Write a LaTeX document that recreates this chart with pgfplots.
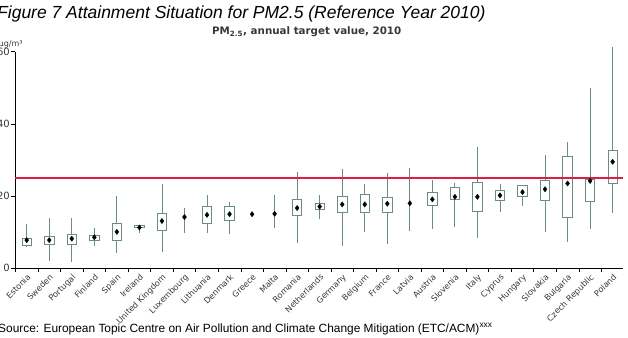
\documentclass[border=0pt]{standalone}
\usepackage{fontspec}
\setmainfont{Liberation Sans}
\newfontfamily\dejavu{DejaVu Sans}
\usepackage{pgfplots}
\pgfplotsset{compat=1.18}
\usepgfplotslibrary{statistics}
\definecolor{boxc}{RGB}{105,140,135}
\definecolor{tgt}{RGB}{222,28,72}
\definecolor{lbl}{RGB}{55,55,55}
\pgfplotsset{
  bx/.style={draw=boxc, fill=white, line width=0.8pt, solid,
    boxplot/draw direction=y,
    boxplot/draw/median/.code={}},
}
\begin{document}
\begin{tikzpicture}[x=1pt,y=1pt]
\begin{axis}[
  at={(15pt,68.7pt)}, anchor=south west,
  scale only axis, width=608pt, height=216.6pt,
  xmin=-0.52, xmax=26.46, ymin=0, ymax=60,
  axis x line*=bottom, axis y line*=left,
  axis line style={black, line width=0.8pt},
  clip=false,
  ytick={0,20,40,60},
  xtick={0,...,26},
  xticklabels={Estonia,Sweden,Portugal,Finland,Spain,Ireland,United Kingdom,Luxembourg,Lithuania,Denmark,Greece,Malta,Romania,Netherlands,Germany,Belgium,France,Latvia,Austria,Slovenia,Italy,Cyprus,Hungary,Slovakia,Bulgaria,Czech Republic,Poland},
  minor xtick={-0.5,0.5,...,26.5},
  major x tick style={draw=none},
  tick align=outside,
  tick style={black, line width=0.6pt},
  major tick length=3.5pt, minor tick length=3.5pt,
  /pgf/number format/assume math mode=true,
  yticklabel style={font=\dejavu\fontsize{10}{10}\selectfont, text=lbl, inner sep=1.5pt},
  xticklabel style={font=\dejavu\fontsize{8.2}{9}\selectfont, text=lbl, rotate=45, anchor=north east, inner sep=1pt},
  boxplot/draw direction=y,
  boxplot/whisker extend=0,
]
\addplot [bx, boxplot prepared={lower whisker=6.0, lower quartile=6.45, median=7.8, upper quartile=8.3, upper whisker=12.2, draw position=0, box extend=0.42}] coordinates {};
\addplot [bx, boxplot prepared={lower whisker=2.1, lower quartile=6.6, median=7.8, upper quartile=8.75, upper whisker=13.8, draw position=1, box extend=0.42}] coordinates {};
\addplot [bx, boxplot prepared={lower whisker=1.8, lower quartile=6.6, median=8.2, upper quartile=9.4, upper whisker=13.8, draw position=2, box extend=0.42}] coordinates {};
\addplot [bx, boxplot prepared={lower whisker=6.3, lower quartile=7.65, median=8.6, upper quartile=9.0, upper whisker=11.1, draw position=3, box extend=0.42}] coordinates {};
\addplot [bx, boxplot prepared={lower whisker=4.3, lower quartile=7.65, median=10.1, upper quartile=12.5, upper whisker=20.0, draw position=4, box extend=0.42}] coordinates {};
\addplot [bx, boxplot prepared={lower whisker=9.9, lower quartile=11.25, median=11.3, upper quartile=11.8, upper whisker=12.0, draw position=5, box extend=0.42}] coordinates {};
\addplot [bx, boxplot prepared={lower whisker=4.4, lower quartile=10.6, median=13.1, upper quartile=15.2, upper whisker=23.3, draw position=6, box extend=0.42}] coordinates {};
\addplot [bx, boxplot prepared={lower whisker=9.9, lower quartile=14.2, median=14.2, upper quartile=14.2, upper whisker=16.6, draw position=7, box extend=0}] coordinates {};
\addplot [bx, boxplot prepared={lower whisker=9.9, lower quartile=12.5, median=14.8, upper quartile=17.1, upper whisker=20.2, draw position=8, box extend=0.42}] coordinates {};
\addplot [bx, boxplot prepared={lower whisker=9.4, lower quartile=13.4, median=15.0, upper quartile=17.1, upper whisker=18.5, draw position=9, box extend=0.42}] coordinates {};
\addplot [bx, boxplot prepared={lower whisker=11.25, lower quartile=15.1, median=15.1, upper quartile=15.1, upper whisker=20.2, draw position=11, box extend=0}] coordinates {};
\addplot [bx, boxplot prepared={lower whisker=6.9, lower quartile=14.6, median=16.7, upper quartile=19.1, upper whisker=26.8, draw position=12, box extend=0.42}] coordinates {};
\addplot [bx, boxplot prepared={lower whisker=13.7, lower quartile=16.4, median=17.1, upper quartile=18.0, upper whisker=20.2, draw position=13, box extend=0.42}] coordinates {};
\addplot [bx, boxplot prepared={lower whisker=6.3, lower quartile=15.4, median=17.7, upper quartile=19.8, upper whisker=27.4, draw position=14, box extend=0.42}] coordinates {};
\addplot [bx, boxplot prepared={lower whisker=10.1, lower quartile=15.4, median=17.7, upper quartile=20.4, upper whisker=23.3, draw position=15, box extend=0.42}] coordinates {};
\addplot [bx, boxplot prepared={lower whisker=6.8, lower quartile=15.4, median=17.9, upper quartile=19.6, upper whisker=26.3, draw position=16, box extend=0.42}] coordinates {};
\addplot [bx, boxplot prepared={lower whisker=10.3, lower quartile=18.0, median=18.0, upper quartile=18.0, upper whisker=27.7, draw position=17, box extend=0}] coordinates {};
\addplot [bx, boxplot prepared={lower whisker=10.9, lower quartile=17.3, median=19.1, upper quartile=21.0, upper whisker=24.5, draw position=18, box extend=0.42}] coordinates {};
\addplot [bx, boxplot prepared={lower whisker=11.5, lower quartile=19.2, median=19.8, upper quartile=22.4, upper whisker=23.7, draw position=19, box extend=0.42}] coordinates {};
\addplot [bx, boxplot prepared={lower whisker=8.3, lower quartile=15.7, median=19.8, upper quartile=23.7, upper whisker=33.7, draw position=20, box extend=0.42}] coordinates {};
\addplot [bx, boxplot prepared={lower whisker=15.7, lower quartile=18.9, median=20.2, upper quartile=21.5, upper whisker=23.4, draw position=21, box extend=0.42}] coordinates {};
\addplot [bx, boxplot prepared={lower whisker=17.3, lower quartile=19.8, median=21.1, upper quartile=23.1, upper whisker=23.1, draw position=22, box extend=0.42}] coordinates {};
\addplot [bx, boxplot prepared={lower whisker=10.1, lower quartile=18.9, median=21.9, upper quartile=24.3, upper whisker=31.4, draw position=23, box extend=0.42}] coordinates {};
\addplot [bx, boxplot prepared={lower whisker=7.4, lower quartile=14.0, median=23.5, upper quartile=31.1, upper whisker=34.9, draw position=24, box extend=0.42}] coordinates {};
\addplot [bx, boxplot prepared={lower whisker=10.9, lower quartile=18.5, median=24.2, upper quartile=24.5, upper whisker=49.9, draw position=25, box extend=0.42}] coordinates {};
\addplot [bx, boxplot prepared={lower whisker=15.2, lower quartile=23.4, median=29.5, upper quartile=32.6, upper whisker=61.4, draw position=26, box extend=0.42}] coordinates {};
\addplot [tgt, line width=1.3pt] coordinates {(-0.52,25) (26.46,25)};
\addplot [only marks, mark=diamond*, mark size=2.6pt, black] coordinates {
(0,7.8) (1,7.8) (2,8.2) (3,8.6) (4,10.1) (5,11.3) (6,13.1) (7,14.2) (8,14.8) (9,15.0)
(10,15.0) (11,15.1) (12,16.7) (13,17.1) (14,17.7) (15,17.7) (16,17.9) (17,18.0) (18,19.1)
(19,19.8) (20,19.8) (21,20.2) (22,21.1) (23,21.9) (24,23.5) (25,24.2) (26,29.5)};
\end{axis}
\node[anchor=base west, font=\itshape\fontsize{17.5}{17.5}\selectfont, inner sep=0] at (-3,318) {Figure 7 Attainment Situation for PM2.5 (Reference Year 2010)};
\node[anchor=base, font=\dejavu\bfseries\fontsize{10.3}{10.3}\selectfont, inner sep=0, text=lbl] at (306.7,302) {PM\textsubscript{2.5}, annual target value, 2010};
\node[anchor=base west, font=\dejavu\fontsize{8}{8}\selectfont, inner sep=0, text=lbl] at (-1.5,290) {µg/m³};
\node[anchor=base west, font=\fontsize{11.9}{11.9}\selectfont, inner sep=0] at (-2,5) {Source: European Topic Centre on Air Pollution and Climate Change Mitigation (ETC/ACM)\textsuperscript{xxx}};
\pgfresetboundingbox
\path[use as bounding box] (0,0) rectangle (628,337);
\end{tikzpicture}
\end{document}
